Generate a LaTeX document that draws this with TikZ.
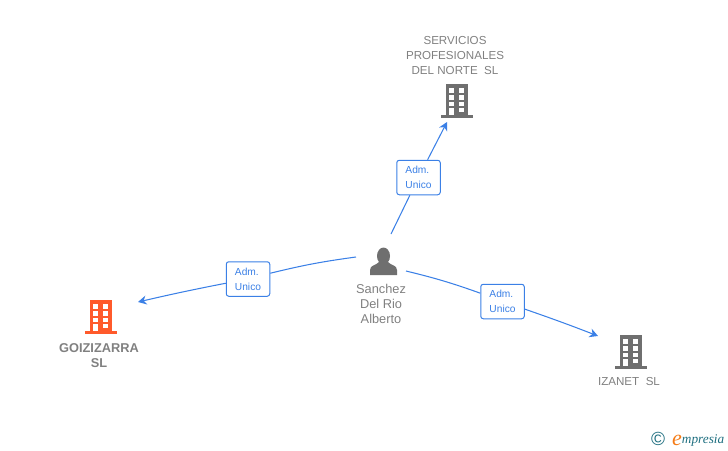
\documentclass[tikz,border=0pt]{standalone}
\usepackage{fontspec}
\setmainfont{Liberation Sans}
\newfontfamily\logofont{Liberation Serif}
\usetikzlibrary{arrows.meta}
\definecolor{linkblue}{HTML}{3B80E6}
\definecolor{labelgray}{HTML}{808080}
\definecolor{icongray}{HTML}{6F6F6F}
\definecolor{iconorange}{HTML}{FF5A2B}
\definecolor{logoteal}{HTML}{1F6F80}
\definecolor{logoorange}{HTML}{F47B16}
\tikzset{
    company/.style={text=labelgray, align=center, font=\fontsize{11.6}{15}\selectfont},
    rolebox/.style={draw=linkblue, fill=white, rounded corners=2.5pt, line width=1pt,
        minimum width=43.5pt, minimum height=34.5pt, inner sep=0pt, text=linkblue,
        align=left, font=\fontsize{10.2}{15}\selectfont},
    link/.style={draw=linkblue, line width=1.05pt},
    linkarrow/.style={link, -{Stealth[length=8.5pt,width=9pt]}},
    buildingicon/.pic={
        \fill[pic actions] (-11,0) rectangle (11,32);
        \fill[pic actions] (-16,31) rectangle (16,34);
        \foreach \wx in {-7.7,2}
            \foreach \wy/\wh in {4/4.7,11.3/4.7,18.3/4}
                \fill[white] (\wx,\wy) rectangle +(5,\wh);
        \fill[white] (-7.7,24.3) rectangle +(5,7);
        \fill[white] (2,24.3) rectangle +(5,4);
    }
}
\begin{document}
\begin{tikzpicture}[x=1pt,y=-1pt]
    \useasboundingbox (0,0) rectangle (728,450);
    % buildings
    \pic[fill=icongray] at (457,84) {buildingicon};
    \pic[fill=iconorange] at (101,300) {buildingicon};
    \pic[fill=icongray] at (631,335) {buildingicon};
    % person
    \fill[icongray] (383.5,256) ellipse (6.5 and 8.5);
    \fill[icongray] (370,275) -- (370,270) .. controls (370,265) and (376,265.5) .. (379,262)
        -- (388,262) .. controls (391,265.5) and (397,265) .. (397,270) -- (397,275) -- cycle;
    % names
    \node[company] (servicios) at (455,56) {SERVICIOS\\PROFESIONALES\\DEL NORTE\ \ SL};
    \node[company, font=\fontsize{12.8}{15}\selectfont\bfseries] (goizizarra) at (99,355.5) {GOIZIZARRA\\SL};
    \node[company] (izanet) at (629,382) {IZANET\ \ SL};
    \node[company, font=\fontsize{12.8}{15}\selectfont] (sanchez) at (381,304) {Sanchez\\Del Rio\\Alberto};
    % roles
    \node[rolebox] (admN) at (418.5,177.5) {Adm.\\Unico};
    \node[rolebox] (admW) at (248,279) {Adm.\\Unico};
    \node[rolebox] (admE) at (502.5,301.5) {Adm.\\Unico};
    % link ends
    \coordinate (startN) at (391,234);
    \coordinate (startW) at (356,257);
    \coordinate (startE) at (406,271);
    \coordinate (endN) at (447,122);
    \coordinate (endW) at (138,302);
    \coordinate (endE) at (598,336);
    \draw[link] (startN) -- (admN);
    \draw[linkarrow] (admN) -- (endN);
    \draw[link] (startW) to[bend right=3] (admW);
    \draw[linkarrow] (admW) to[bend right=1] (endW);
    \draw[link] (startE) to[bend left=3] (admE);
    \draw[linkarrow] (admE) to[bend left=1] (endE);
    % logo
    \node[text=logoteal, font=\fontsize{19}{19}\selectfont] (copyr) at (658,439) {©};
    \node[text=logoteal, anchor=base west, inner sep=0pt, font=\logofont\fontsize{13.3}{14}\selectfont\itshape] (logo) at (672,443)
        {\textcolor{logoorange}{\raisebox{-2pt}[0pt][0pt]{\fontsize{22}{22}\selectfont e}}mpresia};
\end{tikzpicture}
\end{document}
